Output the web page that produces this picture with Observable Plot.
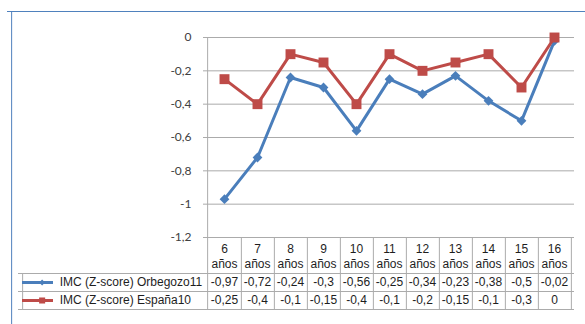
<!DOCTYPE html>
<html><head><meta charset="utf-8">
<script src="https://cdn.jsdelivr.net/npm/d3@7"></script>
<script src="https://cdn.jsdelivr.net/npm/@observablehq/plot@0.6"></script>
<style>html,body{margin:0;padding:0;background:#fff;} svg{display:block;}</style>
</head><body><div id="chart"></div>
<script>
// ---- data ----
const ages = [6, 7, 8, 9, 10, 11, 12, 13, 14, 15, 16];
const unit = "años";
const orbegozo = [-0.97, -0.72, -0.24, -0.3, -0.56, -0.25, -0.34, -0.23, -0.38, -0.5, -0.02];
const espana = [-0.25, -0.4, -0.1, -0.15, -0.4, -0.1, -0.2, -0.15, -0.1, -0.3, 0];
const seriesNames = ["IMC (Z-score) Orbegozo11", "IMC (Z-score) España10"];
const yTicks = [0, -0.2, -0.4, -0.6, -0.8, -1, -1.2];

// ---- layout ----
const W = 585, H = 324, mL = 203, mR = 11, mT = 37, mB = 87;
const step = (W - mL - mR) / ages.length;
const c0 = mL + step / 2;          // centre of the first category
const yMin = -1.2;
const hdr = 36, row = 18, legendLeft = 18;
const fmt = v => String(v).replace(".", ",");
const blue = "#4a7ebb", red = "#be4b48", grid = "#ababab", border = "#4f81bd";

const rows = ages.map((a, i) => ({age: a, orb: orbegozo[i], esp: espana[i]}));
const tableText = {fontFamily: "Liberation Sans, Arial, sans-serif", fontSize: 12, fill: "#1e1e1e"};
const series = [
  {name: seriesNames[0], key: "orb", color: blue, symbol: "diamond2", r: 4.4, kr: 2.6},
  {name: seriesNames[1], key: "esp", color: red, symbol: "square", r: 5.6, kr: 3.4}
];

const marks = [
  // outer chart-area border (top and left)
  Plot.ruleY([0], {dy: 11 - mT, insetLeft: 7 - mL, insetRight: -mR, stroke: border}),
  Plot.ruleX([ages[0]], {dx: 7 - c0, y1: 0, y2: yMin, insetTop: -(mT - 11), insetBottom: -mB, stroke: border}),
  // gridlines
  Plot.ruleY(yTicks, {stroke: grid}),
  // vertical axis line, extending through the table
  Plot.ruleX([ages[0]], {dx: -step / 2, y1: 0, y2: yMin, insetBottom: -(hdr + 2 * row), stroke: grid}),
  // table column separators
  Plot.ruleX(ages, {dx: step / 2, y1: yMin, y2: yMin, insetBottom: -(hdr + 2 * row), stroke: grid}),
  // legend column left border
  Plot.ruleX([ages[0]], {dx: legendLeft - c0, y1: yMin, y2: yMin, insetTop: hdr, insetBottom: -(hdr + 2 * row), stroke: grid}),
  // table row lines
  ...[hdr, hdr + row, hdr + 2 * row].map(o => Plot.ruleY([yMin], {dy: o, insetLeft: legendLeft - mL, stroke: grid})),
  // header (category labels)
  Plot.text(ages, {x: d => d, y: yMin, text: d => `${d}\n${unit}`, dy: hdr / 2, lineHeight: 1.25, ...tableText}),
  // y axis
  Plot.axisY(yTicks, {tickSize: 0, tickPadding: 12, tickFormat: fmt, fontFamily: "Lato, sans-serif", fontSize: 12, fill: "#404040", label: null})
];

series.forEach((s, i) => {
  const cy = hdr + row * i + row / 2;
  marks.push(
    Plot.text(rows, {x: "age", y: yMin, text: d => fmt(d[s.key]), dy: cy, ...tableText}),
    Plot.ruleY([yMin], {dy: cy, insetLeft: 22 - mL, insetRight: (W - mR) - 53, stroke: s.color, strokeWidth: 3}),
    Plot.dot([ages[0]], {x: d => d, y: yMin, dx: 37.5 - c0, dy: cy, symbol: s.symbol, r: s.kr, fill: s.color}),
    Plot.text([s.name], {x: () => ages[0], y: yMin, dx: 55 - c0, dy: cy, text: d => d, textAnchor: "start", ...tableText})
  );
});

series.forEach(s => {
  marks.push(
    Plot.line(rows, {x: "age", y: s.key, stroke: s.color, strokeWidth: 3, strokeLinejoin: "round"}),
    Plot.dot(rows, {x: "age", y: s.key, symbol: s.symbol, r: s.r, fill: s.color})
  );
});

const plot = Plot.plot({
  width: W, height: H, marginLeft: mL, marginRight: mR, marginTop: mT, marginBottom: mB,
  x: {type: "point", domain: ages, padding: 0.5, axis: null},
  y: {domain: [yMin, 0], axis: null},
  style: {background: "#fff", overflow: "visible"},
  marks
});
document.getElementById("chart").append(plot);
</script>
</body></html>
